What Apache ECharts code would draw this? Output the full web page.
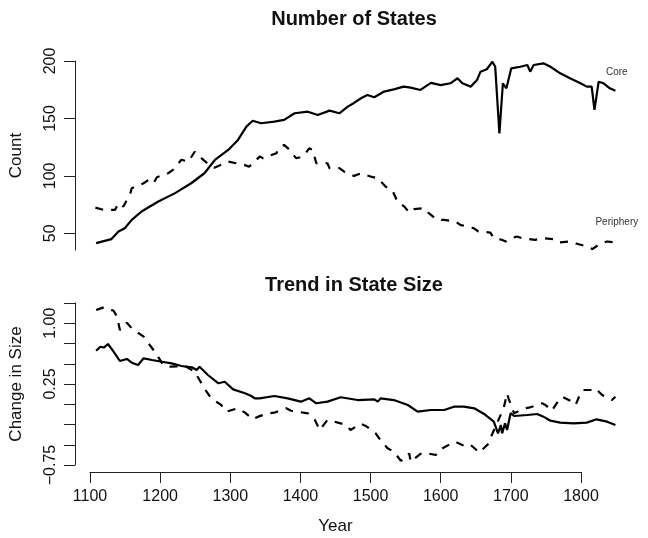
<!DOCTYPE html>
<html><head><meta charset="utf-8">
<script src="https://cdn.jsdelivr.net/npm/echarts@6/dist/echarts.min.js"></script>
<style>html,body{margin:0;padding:0;background:#fff}#c{width:648px;height:538px}</style>
</head><body><div id="c"></div>
<script>
// ---- Data ----
const coreYears = [1106,1128,1138,1147,1157,1171,1195,1219,1242,1261,1276,1295,1309,1321,1330,1342,1361,1375,1390,1409,1423,1440,1454,1466,1475,1485,1494,1504,1518,1532,1546,1556,1570,1585,1599,1613,1623,1630,1642,1651,1656,1665,1673,1677,1683,1688,1693,1700,1713,1723,1727,1732,1746,1756,1770,1784,1799,1808,1815,1819,1825,1832,1841,1849];
const coreCount = [41.5,45,51.6,54.5,61.7,69,77.7,85,93.6,102.3,114,122.6,131.3,142.9,148,145.8,147.2,148.7,154.5,155.9,153,156.8,154.5,160.3,163.5,167.6,170.4,168.4,173.4,175.3,177.7,176.8,174.8,181,179,180.6,185,180.6,177.7,183.5,190.7,192.8,199.4,195,137,180.6,176.2,193.6,195,196.5,190.7,196.5,198,195,189.3,185,180.6,177.7,177.7,157.4,182,180.6,176.2,174.2];

const periYears = [1105,1117,1133,1138,1145,1155,1157,1174,1181,1188,1193,1209,1216,1228,1238,1247,1254,1271,1276,1295,1318,1325,1340,1345,1364,1366,1375,1383,1392,1402,1411,1416,1421,1437,1440,1454,1461,1475,1485,1499,1509,1520,1530,1537,1547,1554,1561,1575,1582,1594,1604,1620,1627,1646,1653,1670,1675,1687,1692,1696,1708,1715,1734,1744,1760,1768,1784,1794,1808,1816,1827,1837,1849];
const periCount = [72.4,70.4,70.4,76.2,73.3,85,89.3,93.6,96.5,93.6,98.8,102.3,105.2,114,112.4,121,116.8,108,107.2,112.4,109.6,108,116.8,115.4,119.7,122.6,127,122.6,115.4,116.8,124,122.6,111,111,106.7,106.7,103.7,100,102.3,99.4,98,90.7,87.3,77.7,73.3,68.1,71,71.9,67.5,61.7,61.7,60.3,57.4,54.5,51.6,50.7,45.8,44.3,42.9,45,47.2,45.8,44.3,45.8,45,42,42.9,40.9,38.6,36.3,40.9,42.9,42];

const coreTrendYears = [1106,1112,1117,1123,1131,1140,1150,1157,1166,1174,1186,1200,1214,1228,1243,1250,1254,1266,1281,1290,1302,1319,1328,1333,1340,1361,1380,1399,1411,1421,1437,1456,1480,1504,1509,1513,1532,1552,1566,1585,1604,1618,1632,1647,1661,1675,1681,1685,1687,1691,1694,1699,1704,1723,1737,1746,1756,1770,1789,1808,1822,1837,1849];
const coreTrend = [0.661,0.71,0.70,0.744,0.649,0.534,0.559,0.513,0.485,0.567,0.546,0.525,0.505,0.472,0.456,0.423,0.464,0.361,0.259,0.278,0.184,0.135,0.102,0.073,0.073,0.102,0.073,0.032,0.073,0.012,0.032,0.086,0.052,0.061,0.032,0.073,0.052,-0.009,-0.092,-0.071,-0.071,-0.030,-0.030,-0.05,-0.12,-0.215,-0.359,-0.256,-0.359,-0.235,-0.318,-0.11,-0.145,-0.133,-0.12,-0.153,-0.203,-0.227,-0.236,-0.227,-0.186,-0.215,-0.256];

const periTrendYears = [1106,1117,1131,1136,1140,1150,1157,1174,1181,1188,1193,1202,1212,1233,1247,1254,1264,1271,1285,1292,1309,1319,1330,1338,1352,1361,1378,1385,1409,1419,1426,1437,1447,1464,1470,1484,1492,1506,1511,1523,1532,1542,1549,1554,1556,1570,1575,1592,1597,1613,1620,1635,1642,1649,1654,1668,1670,1689,1694,1696,1704,1720,1727,1744,1749,1758,1768,1773,1787,1792,1799,1803,1815,1820,1830,1844,1849];
const periTrend = [1.164,1.197,1.155,1.081,0.917,1.007,0.937,0.834,0.752,0.67,0.608,0.485,0.464,0.472,0.402,0.299,0.155,0.073,-0.009,-0.092,-0.05,-0.104,-0.186,-0.153,-0.112,-0.104,-0.05,-0.08,-0.112,-0.194,-0.318,-0.194,-0.215,-0.256,-0.318,-0.24,-0.269,-0.359,-0.421,-0.544,-0.586,-0.697,-0.667,-0.606,-0.71,-0.614,-0.598,-0.627,-0.565,-0.49,-0.462,-0.524,-0.503,-0.556,-0.598,-0.482,-0.421,-0.05,0.135,0.073,-0.112,-0.05,-0.038,0.012,-0.009,-0.08,0.052,0.093,0.032,-0.009,0.135,0.176,0.176,0.197,0.114,0.052,0.093];

const yearTicks = [1100,1200,1300,1400,1500,1600,1700,1800];
const countTicks = [50,100,150,200];
const sizeLabelTicks = [-0.75,0.25,1.00];
const lineLabels = [{text:'Core', year:1851, value:190}, {text:'Periphery', year:1851, value:60}];

// ---- Chart ----
const FONT = '"Liberation Sans", Arial, Helvetica, sans-serif';
const INK = '#111';
const AX = '#222';
const pair = (xs, ys) => xs.map((x, i) => [x, ys[i]]);
const fmtSize = v => (v < 0 ? '\u2212' : '') + Math.abs(v).toFixed(2);

// x scale of the plotting region (year range covered by the plot area, R-style padding)
const X_MIN = 1075.8, X_MAX = 1877.0;

const chart = echarts.init(document.getElementById('c'), null, {renderer: 'canvas'});

const lineSolid = {color: '#000', width: 2.2, type: 'solid'};
const lineDash = {color: '#000', width: 2.2, type: [8, 8]};

function labelPoint(lbl) {
  return {
    symbol: 'circle', symbolSize: 0, silent: true,
    data: [{coord: [lbl.year, lbl.value], value: lbl.text}],
    label: {show: true, position: 'inside', formatter: lbl.text, fontSize: 10, color: '#333', fontFamily: FONT}
  };
}

const yCommon = {
  axisLine: {show: true, onZero: false, lineStyle: {color: AX, width: 1}},
  splitLine: {show: false},
  nameLocation: 'middle', nameGap: 50, nameRotate: 90,
  nameTextStyle: {fontSize: 17, color: INK, fontFamily: FONT}
};

const option = {
  animation: false,
  backgroundColor: '#fff',
  textStyle: {fontFamily: FONT},
  title: [
    {text: 'Number of States', left: 354, top: 9, textAlign: 'center', padding: 0,
     textStyle: {fontSize: 20, fontWeight: 'bold', color: INK, fontFamily: FONT}},
    {text: 'Trend in State Size', left: 354, top: 275, textAlign: 'center', padding: 0,
     textStyle: {fontSize: 20, fontWeight: 'bold', color: INK, fontFamily: FONT}}
  ],
  grid: [
    {left: 73, width: 562, top: 61, height: 189},
    {left: 73, width: 562, top: 303, height: 162},
    {left: 90, width: 491, top: 303, height: 162}
  ],
  xAxis: [
    {gridIndex: 0, type: 'value', min: X_MIN, max: X_MAX, show: false},
    {gridIndex: 1, type: 'value', min: X_MIN, max: X_MAX, show: false},
    {gridIndex: 2, type: 'value', min: 1100, max: 1800, interval: 100, offset: 7,
     axisLine: {show: true, onZero: false, lineStyle: {color: AX, width: 1}},
     axisTick: {show: true, length: 11, lineStyle: {color: AX, width: 1}},
     axisLabel: {show: true, margin: 17, fontSize: 16, color: INK, fontFamily: FONT,
                 customValues: yearTicks, formatter: v => String(v)},
     splitLine: {show: false},
     name: 'Year', nameLocation: 'middle', nameGap: 46,
     nameTextStyle: {fontSize: 17, color: INK, fontFamily: FONT}}
  ],
  yAxis: [
    Object.assign({}, yCommon, {gridIndex: 0, type: 'value', min: 35.5, max: 200,
     axisTick: {show: true, length: 11, customValues: countTicks, lineStyle: {color: AX, width: 1}},
     axisLabel: {show: true, customValues: countTicks, rotate: 90, margin: 16, fontSize: 16, color: INK, fontFamily: FONT},
     name: 'Count'}),
    Object.assign({}, yCommon, {gridIndex: 1, type: 'value', min: -0.75, max: 1.25, interval: 0.25,
     axisTick: {show: true, length: 11, lineStyle: {color: AX, width: 1}},
     axisLabel: {show: true, customValues: sizeLabelTicks, rotate: 90, margin: 16, fontSize: 16, color: INK,
                 fontFamily: FONT, formatter: fmtSize},
     name: 'Change in Size'}),
    {gridIndex: 2, type: 'value', min: -0.75, max: 1.25, show: false}
  ],
  series: [
    {name: 'Core', type: 'line', xAxisIndex: 0, yAxisIndex: 0, data: pair(coreYears, coreCount),
     showSymbol: false, clip: false, lineStyle: lineSolid, markPoint: labelPoint(lineLabels[0])},
    {name: 'Periphery', type: 'line', xAxisIndex: 0, yAxisIndex: 0, data: pair(periYears, periCount),
     showSymbol: false, clip: false, lineStyle: lineDash, markPoint: labelPoint(lineLabels[1])},
    {name: 'Core trend', type: 'line', xAxisIndex: 1, yAxisIndex: 1, data: pair(coreTrendYears, coreTrend),
     showSymbol: false, clip: false, lineStyle: lineSolid},
    {name: 'Periphery trend', type: 'line', xAxisIndex: 1, yAxisIndex: 1, data: pair(periTrendYears, periTrend),
     showSymbol: false, clip: false, lineStyle: lineDash}
  ]
};
chart.setOption(option);
</script>
</body></html>
